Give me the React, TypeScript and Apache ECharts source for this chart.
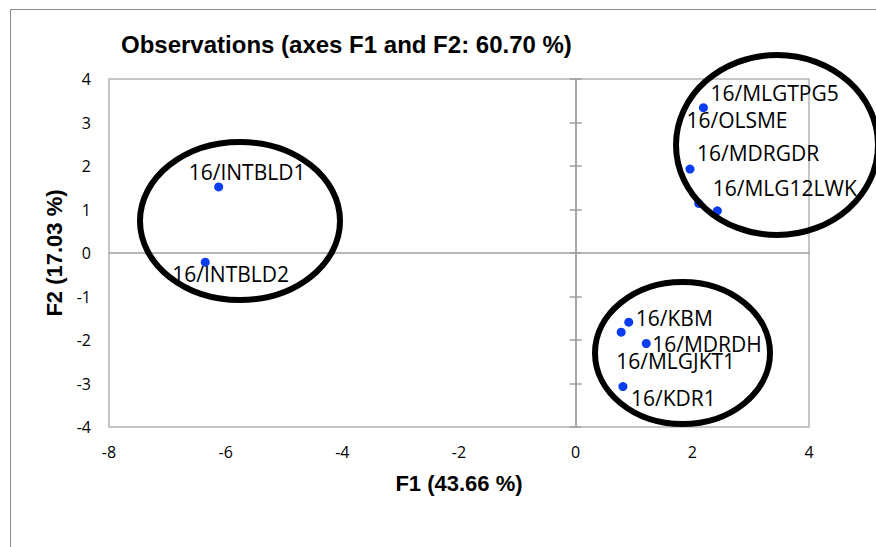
import React, { useEffect, useRef } from "react";
import * as echarts from "echarts";

const titleText = "Observations (axes F1 and F2: 60.70 %)";
const xAxisName = "F1 (43.66 %)";
const yAxisName = "F2 (17.03 %)";

const names = [
  "16/INTBLD1",
  "16/INTBLD2",
  "16/MLGTPG5",
  "16/MDRGDR",
  "16/MLG12LWK",
  "16/OLSME",
  "16/KBM",
  "16/MLGJKT1",
  "16/MDRDH",
  "16/KDR1",
];
const f1Values = [-6.12, -6.35, 2.19, 1.96, 2.11, 2.43, 0.91, 0.78, 1.21, 0.81];
const f2Values = [1.52, -0.21, 3.34, 1.93, 1.14, 0.97, -1.59, -1.82, -2.08, -3.07];

const xMin = -8;
const xMax = 4;
const xStep = 2;
const yMin = -4;
const yMax = 4;
const yStep = 1;

// label placement (layout, px offsets from the point centre to the label's left/middle)
const labelOffsets: Record<string, [number, number]> = {
  "16/INTBLD1": [-30, -15],
  "16/INTBLD2": [-33, 12],
  "16/MLGTPG5": [7, -15],
  "16/MDRGDR": [7, -16],
  "16/MLG12LWK": [14, -15],
  "16/OLSME": [-31, -91],
  "16/KBM": [7, -4],
  "16/MLGJKT1": [-5, 29],
  "16/MDRDH": [6, 1],
  "16/KDR1": [8, 11],
};

export default function App() {
  const ref = useRef<HTMLDivElement>(null);
  useEffect(() => {
    if (!ref.current) return;
    const chart = echarts.init(ref.current, null, { renderer: "svg" });
    const zeroLine = { color: "#a0a0a0", width: 1.5 };
    const tickFont = { fontFamily: "Open Sans", fontSize: 16, color: "#000" };
    const nameFont = {
      fontFamily: "Liberation Sans",
      fontWeight: "bold" as const,
      fontSize: 22,
      color: "#000",
    };
    const data = names.map((n, i) => ({
      name: n,
      value: [f1Values[i], f2Values[i]],
      label: {
        show: true,
        position: "inside" as const,
        align: "left" as const,
        verticalAlign: "middle" as const,
        offset: labelOffsets[n] || [6, -12],
        formatter: n,
        color: "#000",
        fontFamily: "Open Sans",
        fontSize: 21,
        textBorderWidth: 0,
      },
    }));
    const zeroX = {
      type: "value",
      min: xMin,
      max: xMax,
      interval: xStep,
      position: "bottom",
      axisLine: { show: true, onZero: true, onZeroAxisIndex: 0, lineStyle: zeroLine },
      axisTick: { show: false },
      axisLabel: { show: false },
      splitLine: { show: false },
    };
    const zeroY = (inside: boolean) => ({
      type: "value",
      min: yMin,
      max: yMax,
      interval: yStep,
      position: "left",
      axisLine: { show: true, onZero: true, onZeroAxisIndex: 0, lineStyle: zeroLine },
      axisTick: { show: true, inside, length: 6, lineStyle: zeroLine },
      axisLabel: { show: false },
      splitLine: { show: false },
    });
    chart.setOption({
      animation: false,
      backgroundColor: "#fff",
      title: {
        text: titleText,
        left: 121,
        top: 32,
        padding: 0,
        textStyle: {
          fontFamily: "Liberation Sans",
          fontWeight: "bold",
          fontSize: 24,
          color: "#000",
        },
      },
      grid: {
        left: 109,
        top: 79,
        width: 700,
        height: 348,
        show: true,
        borderColor: "#c6c6c6",
        borderWidth: 2,
        backgroundColor: "transparent",
      },
      xAxis: [
        {
          type: "value",
          min: xMin,
          max: xMax,
          interval: xStep,
          position: "bottom",
          axisLine: { show: false, onZero: false },
          axisTick: { show: false },
          splitLine: { show: false },
          axisLabel: { ...tickFont, margin: 17 },
          name: xAxisName,
          nameLocation: "middle",
          nameGap: 45,
          nameTextStyle: nameFont,
        },
        zeroX,
      ],
      yAxis: [
        {
          type: "value",
          min: yMin,
          max: yMax,
          interval: yStep,
          position: "left",
          axisLine: { show: false, onZero: false },
          axisTick: { show: false },
          splitLine: { show: false },
          axisLabel: { ...tickFont, margin: 18 },
          name: yAxisName,
          nameLocation: "middle",
          nameGap: 42,
          nameTextStyle: nameFont,
        },
        zeroY(false),
        zeroY(true),
      ],
      series: [
        {
          type: "scatter",
          xAxisIndex: 0,
          yAxisIndex: 0,
          symbol: "circle",
          symbolSize: 9,
          itemStyle: { color: "#0a3cf0", opacity: 1 },
          data,
        },
      ],
      graphic: [
        {
          type: "rect",
          z: 0,
          shape: { x: 10.5, y: 9.5, width: 900, height: 600 },
          style: { fill: "none", stroke: "#8c8c8c", lineWidth: 1 },
        },
        {
          type: "ellipse",
          z: 100,
          shape: { cx: 240, cy: 221, rx: 100, ry: 79 },
          style: { fill: "none", stroke: "#000", lineWidth: 6 },
        },
        {
          type: "ellipse",
          z: 100,
          shape: { cx: 777, cy: 145, rx: 101, ry: 90 },
          style: { fill: "none", stroke: "#000", lineWidth: 6 },
        },
        {
          type: "ellipse",
          z: 100,
          shape: { cx: 682.5, cy: 353, rx: 87.5, ry: 71 },
          style: { fill: "none", stroke: "#000", lineWidth: 6 },
        },
      ],
    });
    return () => chart.dispose();
  }, []);
  return (
    <div
      ref={ref}
      style={{ position: "fixed", left: 0, top: 0, width: 876, height: 547 }}
    />
  );
}
